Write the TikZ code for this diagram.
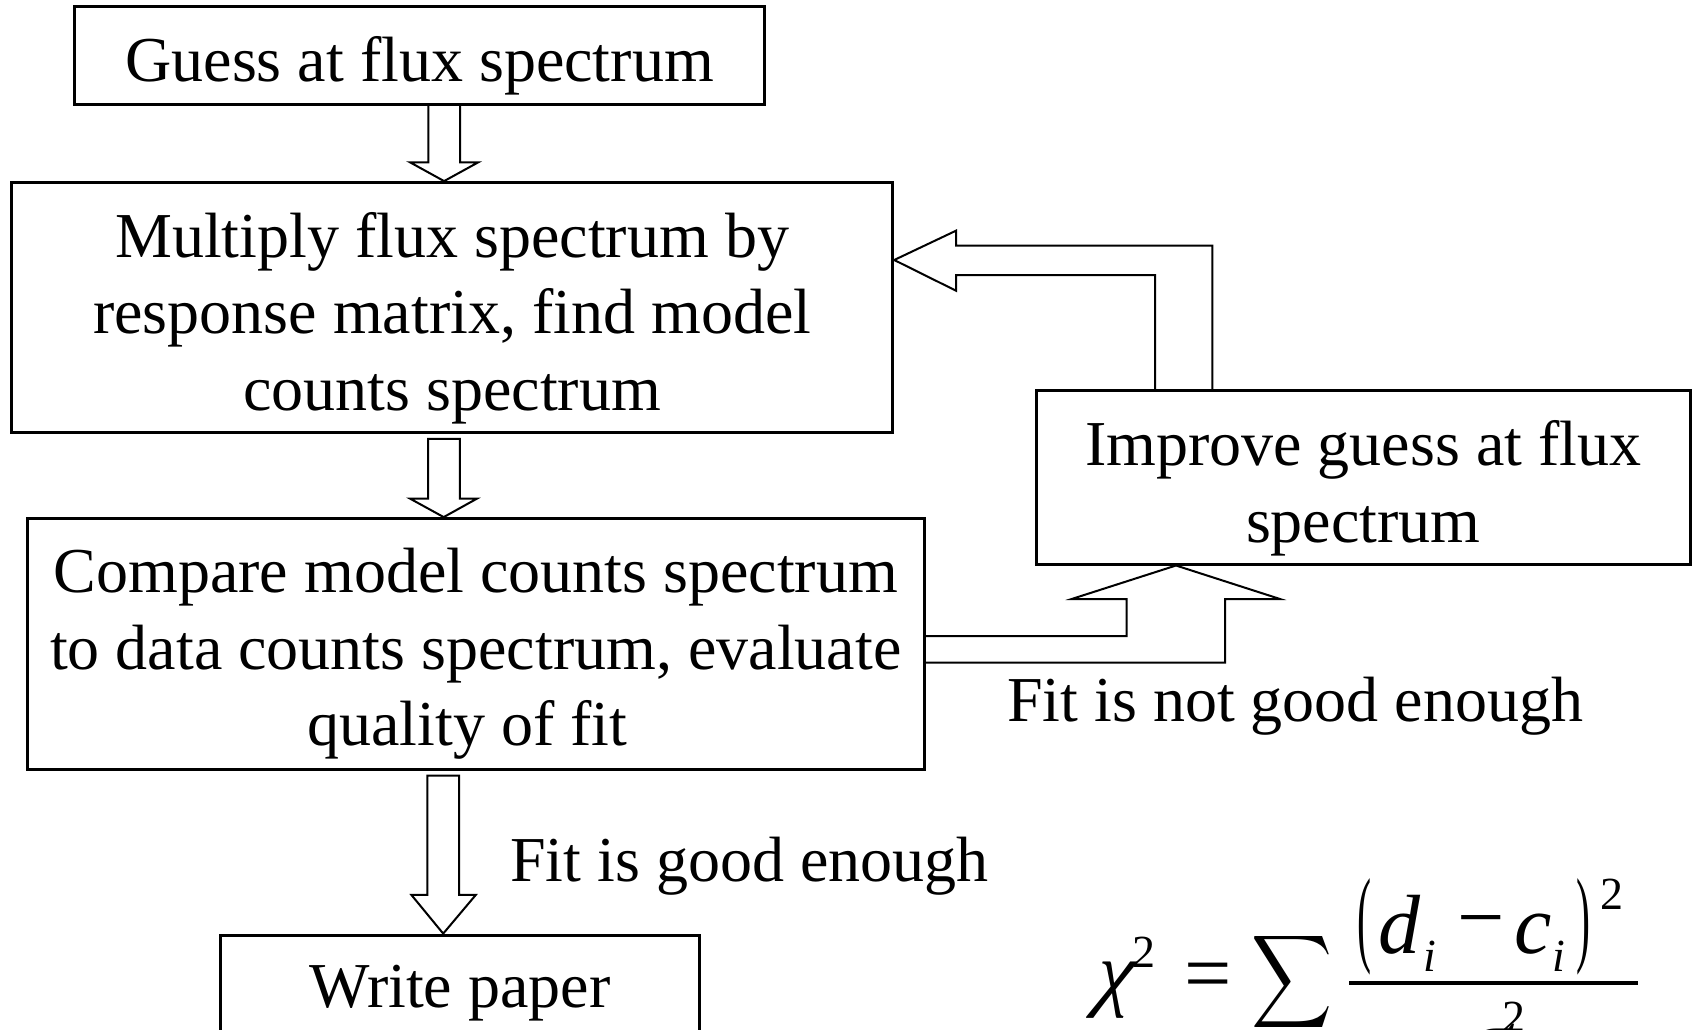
\documentclass[tikz,border=0pt]{standalone}
\usepackage{fontspec}
\setmainfont{Liberation Serif}
\newfontfamily\chifont[FakeSlant=0.28]{Liberation Serif}
\usetikzlibrary{calc}
\begin{document}
\begin{tikzpicture}[x=1pt,y=-1pt,
  boxnode/.style={draw, line width=3pt, inner sep=0pt},
  txt/.style={font=\fontsize{64}{76.5}\selectfont, anchor=base, inner sep=0pt},
  blockarrow/.style={draw, line width=2pt, line join=miter},
  gbig/.style={font=\fontsize{84}{84}\selectfont, inner sep=0pt, anchor=center},
  gsmall/.style={font=\fontsize{46}{46}\selectfont, inner sep=0pt, anchor=center}]
\useasboundingbox (0,0) rectangle (1692,1030);
\clip (0,0) rectangle (1692,1030);

% boxes
\node[boxnode, minimum width=690pt, minimum height=98pt] (b1) at (419.6,55.1) {};
\node[boxnode, minimum width=881.2pt, minimum height=250.1pt] (b2) at (452.1,307.65) {};
\node[boxnode, minimum width=896.7pt, minimum height=250.8pt] (b3) at (475.75,644) {};
\node[boxnode, minimum width=479.6pt, minimum height=100pt] (b4) at (459.8,985.1) {};
\node[boxnode, minimum width=654.6pt, minimum height=173.3pt] (b5) at (1363.3,477.35) {};

% box texts
\node[txt] (t1) at (419.6,81.5) {Guess at flux spectrum};
\node[txt] (t2a) at (452.1,257) {Multiply flux spectrum by};
\node[txt] (t2b) at (452.1,333.5) {response matrix, find model};
\node[txt] (t2c) at (452.1,410) {counts spectrum};
\node[txt] (t3a) at (475.75,592.3) {Compare model counts spectrum};
\node[txt] (t3b) at (475.75,669) {to data counts spectrum, evaluate};
\node[txt] (t3c) at (467.5,745.8) {quality of fit};
\node[txt] (t4) at (459.8,1007) {Write paper};
\node[txt] (t5a) at (1363.3,465.5) {Improve guess at flux};
\node[txt] (t5b) at (1363.3,542) {spectrum};

% labels
\node[txt, anchor=base west] (lgood) at (510,881.5) {Fit is good enough};
\node[txt, anchor=base west] (lnot) at (1007,721) {Fit is not good enough};

% block arrows
\draw[blockarrow] (428.3,0 |- b1.south) -- (428.3,162.3) -- (410,162.3) -- (444.1,0 |- b2.north)
  -- (478.3,162.3) -- (460,162.3) -- (460,0 |- b1.south);
\draw[blockarrow] (428.2,438.8) -- (428.2,498.6) -- (410,498.6) -- (443.7,0 |- b3.north)
  -- (477,498.6) -- (459.8,498.6) -- (459.8,438.8) -- cycle;
\draw[blockarrow] (427.3,775.5) -- (427.3,894.9) -- (411.4,894.9) -- (443.2,0 |- b4.north)
  -- (475.8,894.9) -- (459.2,894.9) -- (459.2,775.5) -- cycle;
\draw[blockarrow] (1155,0 |- b5.north) -- (1155,275) -- (956,275) -- (956,290.7) -- (b2.east |- 0,260)
  -- (956,230.7) -- (956,245.7) -- (1212.3,245.7) -- (1212.3,0 |- b5.north);
\draw[blockarrow] (b3.east |- 0,636.2) -- (1126.7,636.2) -- (1126.7,599) -- (1071.7,599) -- (1176,0 |- b5.south)
  -- (1280,599) -- (1225,599) -- (1225,662.6) -- (b3.east |- 0,662.6);

% formula
\node[gbig] (chi) at (1110,990) {\chifont χ};
\node[gsmall] (chisq) at (1144,952) {2};
\node[gbig] (eq) at (1208,982.2) {=};
\node[gbig] (sum) at (1292.5,982) {\resizebox*{81pt}{104pt}{$\displaystyle\sum$}};
\node[gbig] (lp) at (1364.8,927.3) {\scalebox{0.5}[1.27]{(}};
\node[gbig] (dd) at (1399,925) {\itshape d};
\node[gsmall] (di) at (1429.6,956.7) {\itshape i};
\node[gbig] (minus) at (1481,930) {−};
\node[gbig] (cc) at (1532.8,934) {\itshape c};
\node[gsmall] (ci) at (1559,956.7) {\itshape i};
\node[gbig] (rp) at (1583.5,927.3) {\scalebox{0.5}[1.27]{)}};
\node[gsmall] (nsq) at (1612.4,894.5) {2};
\draw[line width=4pt] (1349,983) -- (1637.7,983);
\node[gbig] (sig) at (1491,1046) {\itshape σ};
\node[gsmall] (dsq) at (1514,1017) {2};
\end{tikzpicture}
\end{document}
